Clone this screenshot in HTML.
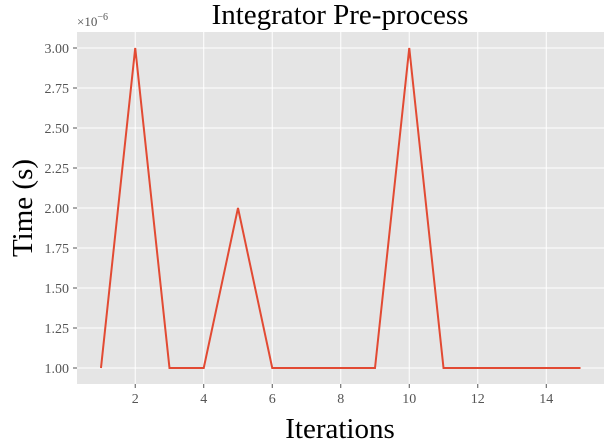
<!DOCTYPE html>
<html><head><meta charset="utf-8"><style>
body{margin:0;background:#fff;}
svg{display:block;font-family:"Liberation Serif",serif;}
</style></head><body>
<svg id="chart" width="604" height="444">
<rect x="77" y="32" width="527" height="352" fill="#e5e5e5"/>
<g id="grid"></g><g id="ticks"></g>
<polyline id="line" fill="none" stroke="#E24A33" stroke-width="2"/>
<text x="340" y="24" font-size="29" text-anchor="middle">Integrator Pre-process</text>
<text x="340" y="438" font-size="29" text-anchor="middle">Iterations</text>
<text transform="translate(32,208) rotate(-90)" font-size="29" text-anchor="middle">Time (s)</text>
<text x="77" y="26" font-size="13" fill="#555">×10<tspan dy="-6" font-size="10">−6</tspan></text>
</svg>
<script>
const iterations=[1,2,3,4,5,6,7,8,9,10,11,12,13,14,15];
const times=[1,3,1,1,2,1,1,1,1,3,1,1,1,1,1];
const xTicks=[2,4,6,8,10,12,14];
const yTicks=[1.00,1.25,1.50,1.75,2.00,2.25,2.50,2.75,3.00];
const L=77,R=604.5,T=32,B=384,xmin=0.3,xmax=15.7,ymin=0.9,ymax=3.1;
const sx=v=>L+(v-xmin)/(xmax-xmin)*(R-L);
const sy=v=>B-(v-ymin)/(ymax-ymin)*(B-T);
const NS="http://www.w3.org/2000/svg";
const grid=document.getElementById('grid'),ticks=document.getElementById('ticks');
function mk(tag,attrs,parent){const e=document.createElementNS(NS,tag);for(const k in attrs)e.setAttribute(k,attrs[k]);parent.appendChild(e);return e;}
xTicks.forEach(v=>{
 const g=mk('line',{x1:sx(v),x2:sx(v),y1:T,y2:B,stroke:'#fff','stroke-width':1},grid);
 
 
 mk('line',{x1:sx(v),x2:sx(v),y1:B,y2:B+4,stroke:'#555'},ticks);
 const t=mk('text',{x:sx(v),y:B+19,'font-size':14,fill:'#555','text-anchor':'middle'},ticks);
 t.textContent=v;
 
 
});
yTicks.forEach(v=>{
 const g=mk('line',{x1:L,x2:R,y1:sy(v),y2:sy(v),stroke:'#fff','stroke-width':1},grid);
 
 
 mk('line',{x1:L-4,x2:L,y1:sy(v),y2:sy(v),stroke:'#555'},ticks);
 const t=mk('text',{x:L-8,y:sy(v)+5,'font-size':14,fill:'#555','text-anchor':'end'},ticks);
 t.textContent=v.toFixed(2);
 
 
});
document.getElementById('line').setAttribute('points',iterations.map((x,i)=>sx(x)+','+sy(times[i])).join(' '));
</script>
</body></html>
